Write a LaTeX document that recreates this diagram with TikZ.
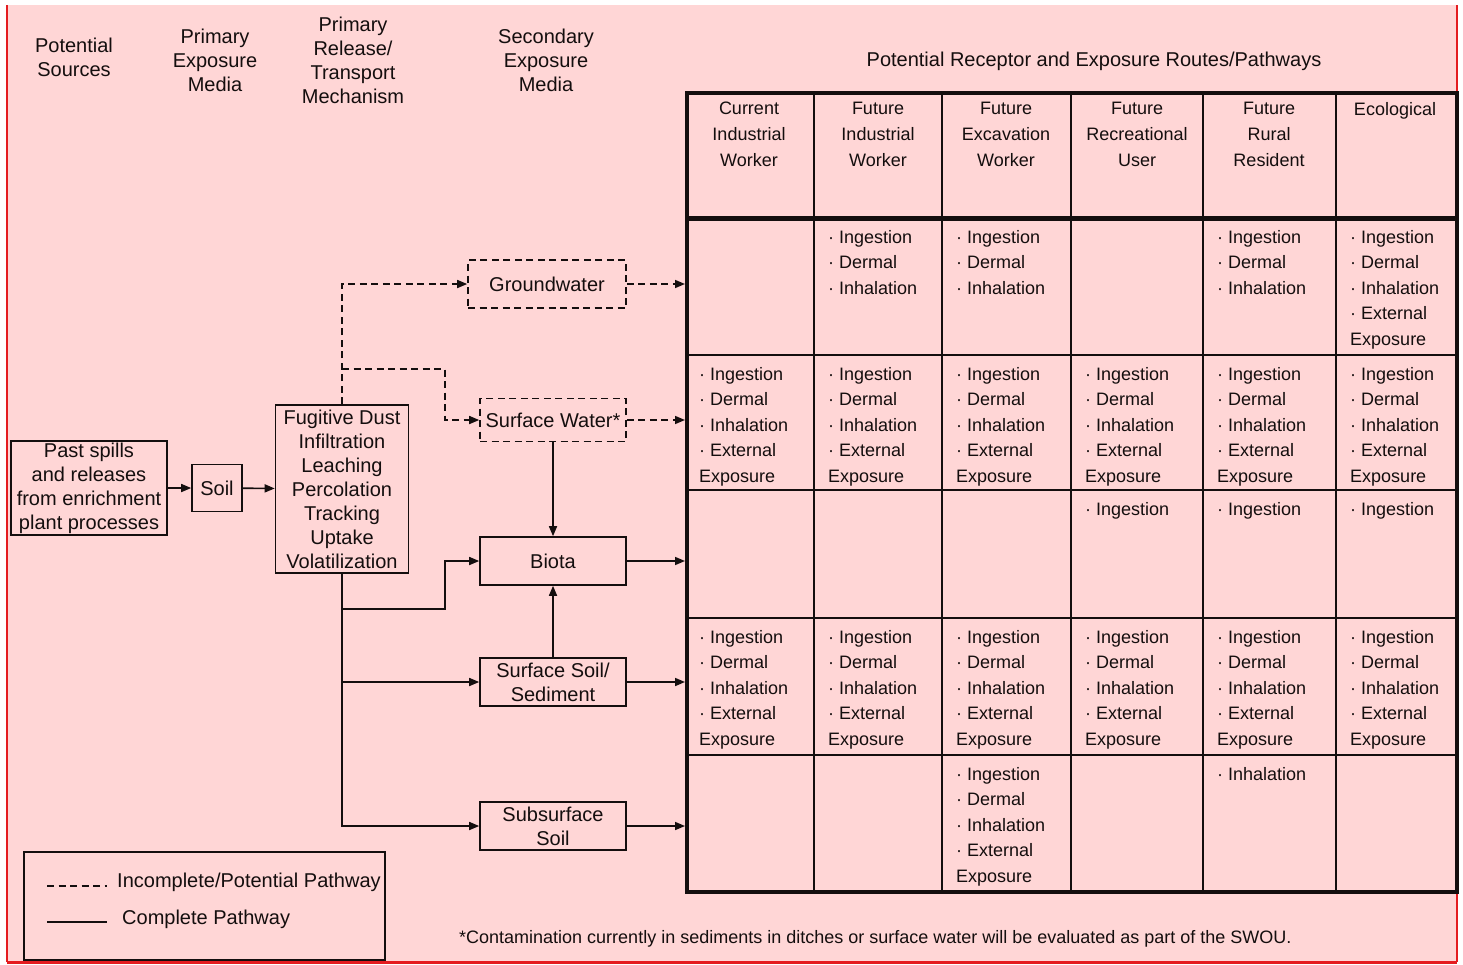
\documentclass[tikz,border=0pt]{standalone}
\usepackage{fontspec}
\setmainfont{Liberation Sans}
\usepackage{xcolor}
\usepackage{tikz}
\usetikzlibrary{calc, arrows.meta, positioning}

\definecolor{bgpink}{RGB}{255,214,214}
\definecolor{edgered}{RGB}{228,28,32}
\definecolor{ink}{RGB}{20,14,14}

\newcommand{\allroutes}{· Ingestion\\· Dermal\\· Inhalation\\· External\\Exposure}
\newcommand{\threeroutes}{· Ingestion\\· Dermal\\· Inhalation}

\begin{document}
\begin{tikzpicture}[x=1pt, y=-1pt, >={Triangle[length=10pt,width=8pt]}, color=ink,
    big/.style={font=\fontsize{20}{24}\selectfont, align=center, inner sep=0pt},
    media/.style={big, draw, line width=1.6pt, minimum width=146pt, minimum height=48pt},
    potential/.style={dash pattern=on 7pt off 4.5pt},
    flow/.style={line width=1.6pt},
    colhead/.style={font=\fontsize{18}{26}\selectfont, align=center, anchor=north, inner sep=0pt},
    cell/.style={font=\fontsize{18}{25.5}\selectfont, align=left, anchor=north west, inner sep=0pt}]

    \useasboundingbox (0,0) rectangle (1463,964);

    % =================================================================
    % NỀN HỒNG VÀ VIỀN ĐỎ
    % =================================================================
    \fill[bgpink] (7,5) rectangle (1457,962);
    \draw[edgered, line width=1.2pt] (7,5) -- (7,962);
    \draw[edgered, line width=1.5pt] (1457,5) -- (1457,962);
    \draw[edgered, line width=3pt] (7,962) -- (1457,962);

    % =================================================================
    % TIÊU ĐỀ CÁC CỘT BÊN TRÁI
    % =================================================================
    \node[big] (srchead) at (74,57) {Potential\\Sources};
    \node[big] (primhead) at (215,60) {Primary\\Exposure\\Media};
    \node[big] (relhead) at (353,60) {Primary\\Release/\\Transport\\Mechanism};
    \node[big] (sechead) at (546,60) {Secondary\\Exposure\\Media};
    \node[big] (title) at (1094,61) {Potential Receptor and Exposure Routes/Pathways};

    % =================================================================
    % SƠ ĐỒ NGUỒN -> MÔI TRƯỜNG
    % =================================================================
    \node[media, minimum width=156pt, minimum height=94pt] (past) at (89,488)
        {Past spills\\and releases\\from enrichment\\plant processes};
    \node[media, minimum width=50pt, minimum height=47pt] (soil) at (217,488) {Soil};
    \node[media, minimum width=133pt, minimum height=168pt] (mech) at (342,489)
        {Fugitive Dust\\Infiltration\\Leaching\\Percolation\\Tracking\\Uptake\\Volatilization};

    \node[media, potential, minimum width=158pt] (gw) at (547,284) {Groundwater};
    \node[media, potential, minimum height=43pt] (sw) at (553,420) {Surface Water*};
    \node[media] (biota) at (553,561) {Biota};
    \node[media] (ssoil) at (553,682) {Surface Soil/\\Sediment};
    \node[media] (sub) at (553,826) {Subsurface\\Soil};

    % Bảng thụ thể
    \node[draw, line width=4pt, minimum width=770pt, minimum height=799pt,
          anchor=north west, inner sep=0pt] (tbl) at (685,91) {};

    % Các điểm gấp của đường dẫn
    \coordinate (swbend) at (445,369);
    \coordinate (biobend) at (445,609);

    % Đường liền: nguồn -> đất -> cơ chế
    \draw[flow, ->] (past) -- (soil);
    \draw[flow, ->] (soil) -- (mech);

    % Đường đứt: cơ chế -> nước ngầm, nước mặt
    \draw[flow, potential, ->] (mech.north) |- (gw.west);
    \draw[flow, potential, ->] (mech.north |- swbend) -- (swbend) |- (sw.west);

    % Đường liền: cơ chế -> sinh vật, đất mặt, đất dưới mặt
    \draw[flow, ->] (mech.south |- biobend) -- (biobend) |- (biota.west);
    \draw[flow, ->] (mech.south |- ssoil.west) -- (ssoil.west);
    \draw[flow, ->] (mech.south) |- (sub.west);
    \draw[flow, ->] (sw) -- (biota);
    \draw[flow, ->] (ssoil) -- (biota);

    % Mũi tên vào bảng
    \draw[flow, potential, ->] (gw.east) -- (gw.east -| tbl.west);
    \draw[flow, potential, ->] (sw.east) -- (sw.east -| tbl.west);
    \foreach \m in {biota, ssoil, sub}
        \draw[flow, ->] (\m.east) -- (\m.east -| tbl.west);

    % =================================================================
    % BẢNG: ĐƯỜNG KẺ VÀ NỘI DUNG
    % =================================================================
    \foreach \vx in {814,942,1071,1203,1336}
        \draw[line width=1.6pt] (\vx,91) -- (\vx,890);
    \foreach \hy in {355,490,618,755}
        \draw[line width=1.6pt] (685,\hy) -- (1455,\hy);
    \draw[line width=5pt] (685,218) -- (1455,218);

    \foreach \cx/\who in {749/{Current\\Industrial\\Worker}, 878/{Future\\Industrial\\Worker},
        1006/{Future\\Excavation\\Worker}, 1137/{Future\\Recreational\\User},
        1269/{Future\\Rural\\Resident}, 1395/{Ecological}}
        \node[colhead] (head\cx) at (\cx,102) {\who};

    \foreach \cx/\ry/\what in {814/218/\threeroutes, 942/218/\threeroutes,
        1203/218/\threeroutes, 1336/218/\allroutes,
        685/355/\allroutes, 814/355/\allroutes, 942/355/\allroutes,
        1071/355/\allroutes, 1203/355/\allroutes, 1336/355/\allroutes,
        1071/490/{· Ingestion}, 1203/490/{· Ingestion}, 1336/490/{· Ingestion},
        685/618/\allroutes, 814/618/\allroutes, 942/618/\allroutes,
        1071/618/\allroutes, 1203/618/\allroutes, 1336/618/\allroutes,
        942/755/\allroutes, 1203/755/{· Inhalation}}
        \node[cell] (cell\cx-\ry) at (\cx+14,\ry+12) {\what};

    % =================================================================
    % CHÚ THÍCH VÀ GHI CHÚ
    % =================================================================
    \node[draw, line width=1.6pt, minimum width=361pt, minimum height=108pt,
          anchor=north west, inner sep=0pt] (legend) at (23,851) {};
    \draw[flow, potential] (47,886) -- (107,886);
    \draw[flow] (47,922) -- (107,922);
    \node[big, anchor=west] (dashkey) at (117,882) {Incomplete/Potential Pathway};
    \node[big, anchor=west] (solidkey) at (122,919) {Complete Pathway};

    \node[font=\fontsize{18}{22}\selectfont, anchor=west, inner sep=0pt] (footnote) at (459,939)
        {*Contamination currently in sediments in ditches or surface water will be evaluated as part of the SWOU.};

\end{tikzpicture}
\end{document}
